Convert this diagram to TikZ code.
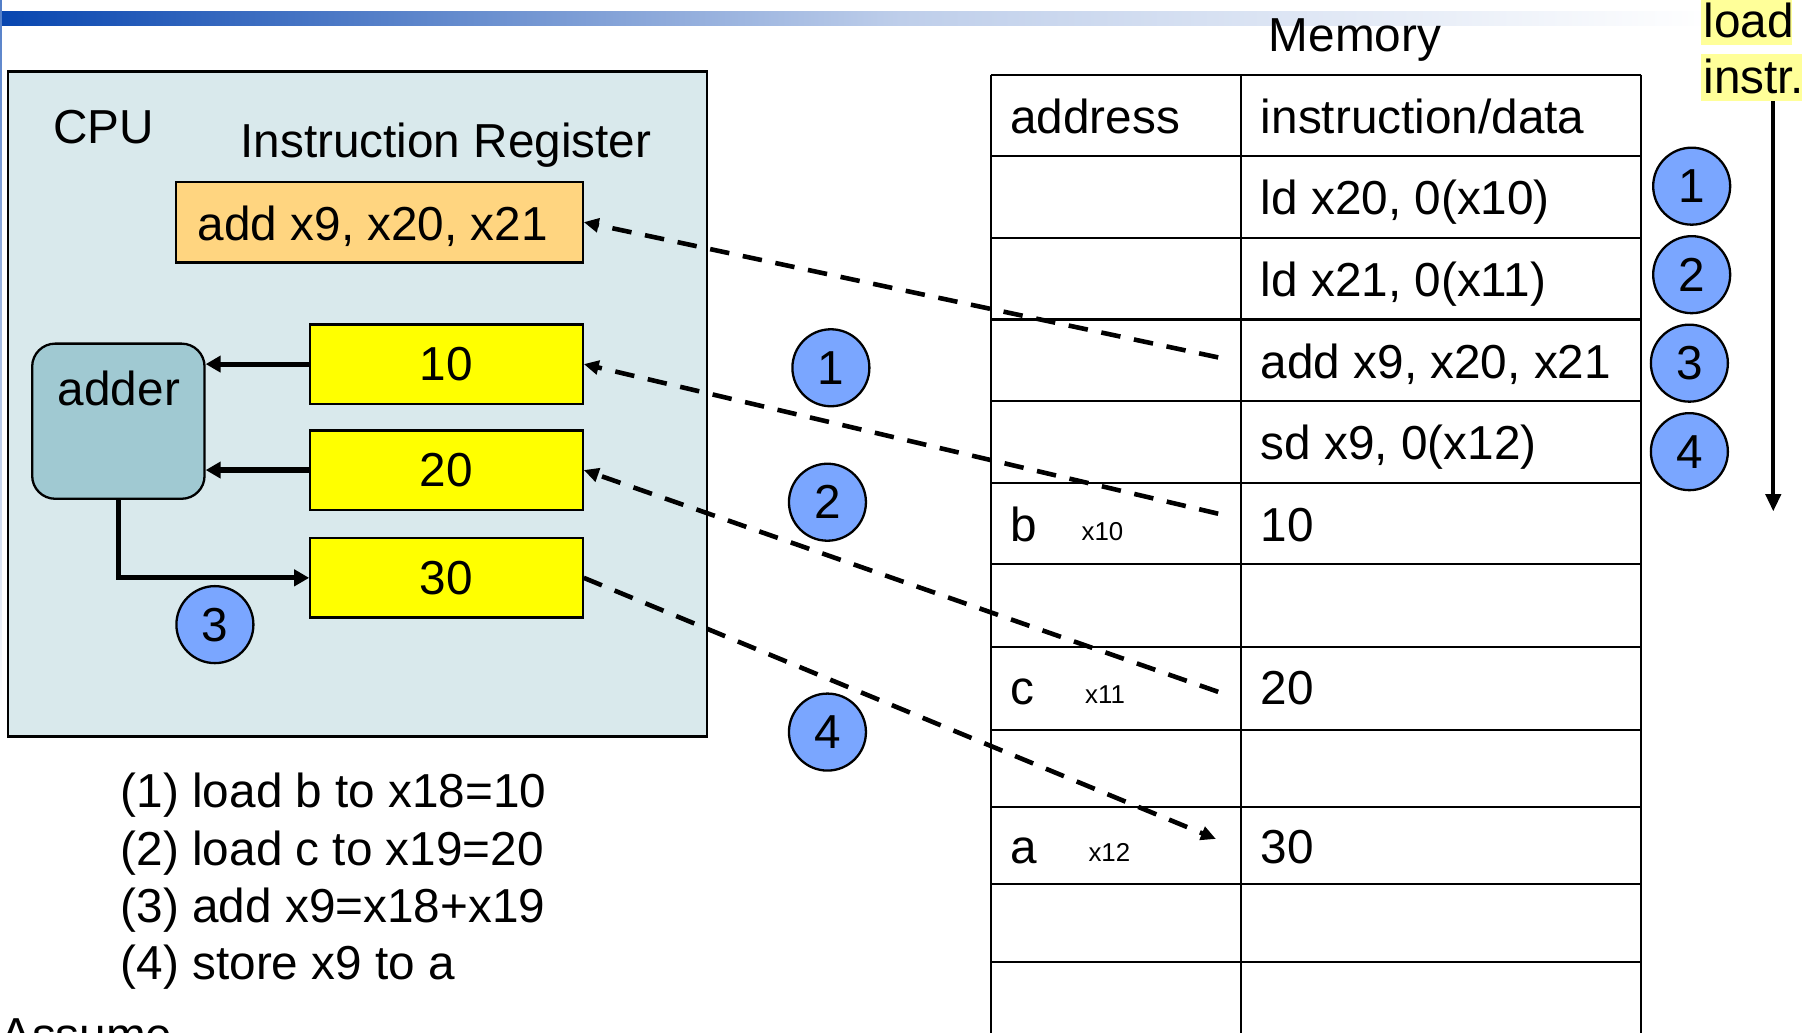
\documentclass[tikz,border=0pt]{standalone}
\usepackage{fontspec}
\setmainfont{Liberation Sans}
\usetikzlibrary{arrows.meta}

\definecolor{cpufill}{RGB}{217,233,236}
\definecolor{irfill}{RGB}{255,213,128}
\definecolor{adderfill}{RGB}{160,201,210}
\definecolor{regfill}{RGB}{255,255,0}
\definecolor{stepfill}{RGB}{122,166,255}
\definecolor{hlfill}{RGB}{255,255,153}
\definecolor{barA}{RGB}{8,70,176}
\definecolor{barB}{RGB}{190,206,234}

\begin{document}
\begin{tikzpicture}[x=1pt,y=-1pt,
  txt/.style={font=\fontsize{41.5}{48}\selectfont, inner sep=0pt, anchor=base west},
  smalltxt/.style={font=\fontsize{22.5}{26}\selectfont, inner sep=0pt, anchor=base west},
  regbox/.style={draw, line width=2pt, fill=regfill, minimum width=237pt,
    minimum height=69pt, inner sep=0pt, font=\fontsize{41.5}{48}\selectfont},
  stepnum/.style={circle, draw, line width=2pt, fill=stepfill, minimum size=67pt,
    inner sep=0pt, font=\fontsize{41.5}{48}\selectfont},
  busarrow/.style={line width=4.5pt, -{Triangle[length=13pt,width=14pt]}},
  fetch/.style={line width=4pt, dash pattern=on 17pt off 12pt,
    -{Triangle[length=13pt,width=12pt]}},
  memline/.style={line width=2pt}]

\useasboundingbox (0,0) rectangle (1568,898);
\fill[white] (0,0) rectangle (1568,898);

\begin{scope}
\clip (0,0) rectangle (1568,898);

% title bar and left rule
\shade[left color=barA, right color=barB] (0,10) rectangle (783,22.5);
\shade[left color=barB, right color=white] (783,10) rectangle (1490,22.5);
\shade[top color=barA!70, bottom color=white] (0,0) rectangle (1.6,620);

% CPU
\node[draw, line width=2.2pt, fill=cpufill, minimum width=608pt, minimum height=579pt,
  inner sep=0pt] (cpu) at (311,351.5) {};
\node[txt] (cpulbl) at (46,125) {CPU};
\node[txt] (irlbl) at (209,137) {Instruction Register};
\node[draw, line width=2pt, fill=irfill, minimum width=354pt, minimum height=70pt,
  inner sep=0pt] (ir) at (330,193.3) {};
\node[txt] (irtext) at (172,209) {add x9, x20, x21};

\node[draw, line width=2pt, fill=adderfill, rounded corners=20pt, minimum width=150pt,
  minimum height=135pt, inner sep=0pt] (adder) at (103,366.5) {};
\node[txt, anchor=base] (adderlbl) at (103.5,353) {adder};

\node[regbox] (r10) at (388.5,316.8) {10};
\node[regbox] (r20) at (388.5,409) {20};
\node[regbox] (r30) at (388.5,502.8) {30};

\draw[busarrow] (r10.west) -- (r10.west -| adder.east);
\draw[busarrow] (r20.west) -- (r20.west -| adder.east);
\draw[busarrow] (adder.south) |- (r30.west);

\node[stepnum] (s3) at (187,543.5) {3};

% memory table
\node[txt, anchor=base] (memlbl) at (1179,45) {Memory};
\foreach \yy in {65,136,207,278,349,420,491,563,635,702,769,837}
  \draw[memline] (862,\yy) -- (1428,\yy);
\foreach \xx in {862,1080,1428}
  \draw[memline] (\xx,65) -- (\xx,900);

\node[txt] (hdaddr) at (879,116) {address};
\node[txt] (hddata) at (1097,116) {instruction/data};
\node[txt] (i1) at (1097,187) {ld x20, 0(x10)};
\node[txt] (i2) at (1097,258) {ld x21, 0(x11)};
\node[txt] (i3) at (1097,329) {add x9, x20, x21};
\node[txt] (i4) at (1097,400) {sd x9, 0(x12)};
\node[txt] (ab) at (879,471) {b};
\node[smalltxt] (xb) at (941,470) {x10};
\node[txt] (vb) at (1097,471) {10};
\node[txt] (ac) at (879,613) {c};
\node[smalltxt] (xc) at (944,612) {x11};
\node[txt] (vc) at (1097,613) {20};
\node[txt] (aa) at (879,751) {a};
\node[smalltxt] (xa) at (947,750) {x12};
\node[txt] (va) at (1097,751) {30};

% instruction order
\fill[hlfill] (1480,0) rectangle (1559,39);
\fill[hlfill] (1480,47) rectangle (1568,88);
\node[txt] (ldlbl) at (1482,33) {load};
\node[txt] (inlbl) at (1482,81) {instr.};
\coordinate (ordtop) at (1543,88);
\coordinate (ordbot) at (1543,445);
\draw[line width=3.5pt, -{Triangle[length=15pt,width=13pt]}] (ordtop) -- (ordbot);

\node[stepnum] (q1) at (1472,162) {1};
\node[stepnum] (q2) at (1472,239) {2};
\node[stepnum] (q3) at (1470,316) {3};
\node[stepnum] (q4) at (1470,393) {4};

% data movement
\coordinate (m1) at (1060,311);
\coordinate (m2) at (1060,447);
\coordinate (m3) at (1060,602);
\coordinate (m4) at (1058,730);
\draw[fetch] (m1) -- (ir.east);
\draw[fetch] (m2) -- (r10.east);
\draw[fetch] (m3) -- (r20.east);
\draw[fetch] (r30.east) -- (m4);

\node[stepnum] (s1) at (723,320) {1};
\node[stepnum] (s2) at (720,437) {2};
\node[stepnum] (s4) at (720,637) {4};

% steps
\node[txt] (l1) at (105,703) {(1) load b to x18=10};
\node[txt] (l2) at (105,753) {(2) load c to x19=20};
\node[txt] (l3) at (105,803) {(3) add x9=x18+x19};
\node[txt] (l4) at (105,852) {(4) store x9 to a};
\node[txt] (assume) at (0,915) {Assume};
\end{scope}
\end{tikzpicture}
\end{document}
